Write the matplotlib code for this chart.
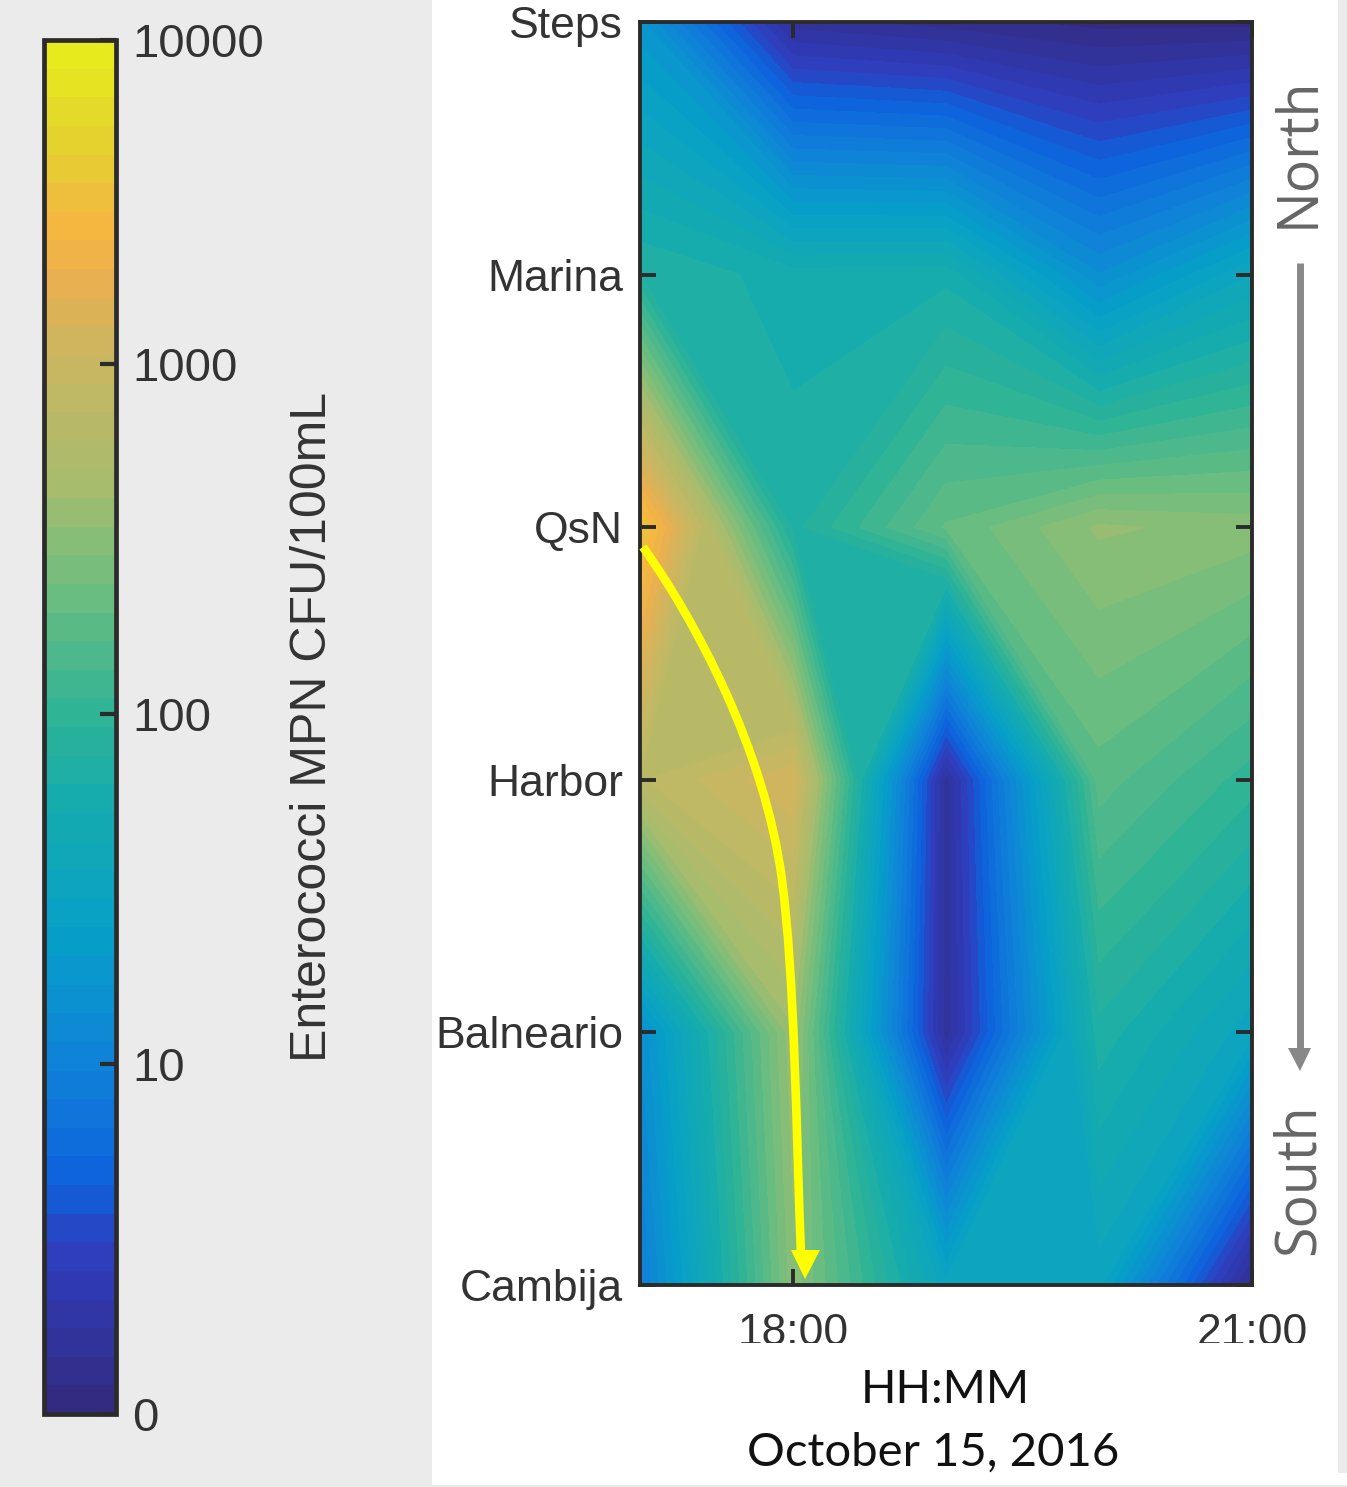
"""Enterococci time/site contour panel with colour bar, pixel laid out to 1347x1487."""
import matplotlib
matplotlib.use("Agg")
import matplotlib.pyplot as plt
import numpy as np
from matplotlib.colors import LinearSegmentedColormap
from matplotlib.patches import PathPatch, Polygon, Rectangle
from matplotlib.path import Path

W, H = 1347, 1487
INK = "#333333"
FRAME = "#2b2b2b"
SHELL = "#ebebeb"
ARROW_GREY = "#888888"

sites = ["Steps", "Marina", "QsN", "Harbor", "Balneario", "Cambija"]
hours = [17, 18, 19, 20, 21]
time_ticks = [18, 21]
time_labels = ["18:00", "21:00"]

# log10 MPN per site (rows) and hour (columns)
steps = [1.25, 0.20, 0.12, 0.05, 0.05]
marina = [1.88, 1.755, 1.77, 1.15, 1.55]
qsn = [3.55, 1.85, 2.30, 2.55, 2.50]
harbor = [2.85, 3.10, 0.20, 2.25, 2.00]
balneario = [1.15, 2.60, 0.20, 1.85, 1.50]
cambija = [0.95, 2.50, 1.50, 1.50, 0.10]

cbar_max = 3.925
cbar_ticks = [0, 1, 2, 3, 3.925]
cbar_labels = ["0", "10", "100", "1000", "10000"]

cmap_stops = [(0.00, "#332a7e"), (0.12, "#2e3fc0"), (0.17, "#0e62dc"),
              (0.25, "#1080d8"), (0.35, "#06a0c8"), (0.45, "#17acad"),
              (0.51, "#2fb495"), (0.60, "#6cbd80"), (0.68, "#a8bc6c"),
              (0.782, "#cfb55f"), (0.825, "#e9b04f"), (0.865, "#f5b640"),
              (0.89, "#ecc13b"), (0.935, "#e3d52d"), (1.00, "#e8ee1c")]
PARULA = LinearSegmentedColormap.from_list("parula_ish", cmap_stops)

plt.rcParams.update({"font.family": ["Liberation Sans", "DejaVu Sans"]})


def px_axes(fig, left, top, right, bottom, **kw):
    return fig.add_axes([left / W, 1 - bottom / H, (right - left) / W,
                         (bottom - top) / H], **kw)


fig = plt.figure(figsize=(W / 100, H / 100), dpi=100, facecolor="white")

# ---------------- main contour panel ----------------
ax = px_axes(fig, 640, 22, 1252, 1285)
Z = np.array([steps, marina, qsn, harbor, balneario, cambija])
levels = np.linspace(0, cbar_max, 49)
cs = ax.contourf(hours, np.arange(len(sites)), Z, levels=levels, cmap=PARULA)
ax.set_ylim(len(sites) - 1, 0)
ax.set_xlim(hours[0], hours[-1])
ax.set_yticks(np.arange(len(sites)))
ax.set_yticklabels(sites, fontsize=32, color=INK)
ax.set_xticks(time_ticks)
ax.set_xticklabels(time_labels, fontsize=32, color=INK)
ax.tick_params(axis="y", direction="in", length=11.5, width=2.8, color=FRAME,
               left=True, right=True, pad=12.2)
ax.tick_params(axis="x", direction="in", length=11.5, width=2.8, color=FRAME,
               bottom=True, top=True, pad=20)
for s in ax.spines.values():
    s.set_linewidth(2.8)
    s.set_color(FRAME)

# ---------------- colour bar ----------------
cax = px_axes(fig, 44, 40, 116, 1414)
cb = fig.colorbar(cs, cax=cax, ticks=cbar_ticks)
cb.set_ticklabels(cbar_labels)
cb.minorticks_off()
cax.tick_params(axis="y", direction="in", length=11.5, width=3, color=FRAME,
                labelsize=34, labelcolor=INK, pad=11.5, right=True)
cb.outline.set_linewidth(3.4)
cb.outline.set_edgecolor(FRAME)

# ---------------- overlay: shell, arrows, hand labels ----------------
ov = fig.add_axes([0, 0, 1, 1], zorder=5)
ov.set_xlim(0, W)
ov.set_ylim(H, 0)
ov.axis("off")

under = fig.add_axes([0, 0, 1, 1], zorder=-5)
under.set_xlim(0, W)
under.set_ylim(H, 0)
under.axis("off")
under.add_patch(Rectangle((0, 0), 432, H, fc=SHELL, ec="none"))
under.add_patch(Rectangle((1338, 0), 9, 1473, fc=SHELL, ec="none"))
under.add_patch(Rectangle((432, 1485), W - 432, 2, fc=SHELL, ec="none"))

# hides the lower part of the tick labels, as the pasted box did
ov.add_patch(Rectangle((432, 1343), 905, 142, fc="white", ec="none", zorder=1))

ov.text(945, 1390, "HH:MM", fontsize=33.6, family="Lato", ha="center",
        va="center", color="#111111", zorder=3)
ov.text(933, 1453, "October 15, 2016", fontsize=34, family="Lato", ha="center",
        va="center", color="#111111", zorder=3)
ov.text(313, 727, "Enterococci MPN CFU/100mL", fontsize=36, rotation=90,
        ha="center", va="center", color=INK)
ov.text(1299, 152, "North", fontsize=40, family="Open Sans", rotation=90,
        ha="center", va="center", color="#666666")
ov.text(1299, 1179.5, "South", fontsize=40, family="Open Sans", rotation=90,
        ha="center", va="center", color="#666666")

# grey north-south arrow
ov.plot([1300, 1300], [263, 1050], color=ARROW_GREY, lw=5, solid_capstyle="butt")
ov.add_patch(Polygon([(1288, 1048), (1311, 1048), (1300, 1071)],
                     fc=ARROW_GREY, ec="none"))

# yellow plume arrow
plume = Path([(643, 547), (695, 620), (765, 750), (782, 880),
              (795, 980), (796, 1130), (801, 1255)],
             [Path.MOVETO, Path.CURVE4, Path.CURVE4, Path.CURVE4,
              Path.CURVE4, Path.CURVE4, Path.CURVE4])
ov.add_patch(PathPatch(plume, fill=False, ec="#ffff00", lw=6.2, capstyle="butt"))
ov.add_patch(Polygon([(791, 1250), (820, 1250), (805, 1279)],
                     fc="#ffff00", ec="none"))

fig.savefig("out.png", dpi=100)
